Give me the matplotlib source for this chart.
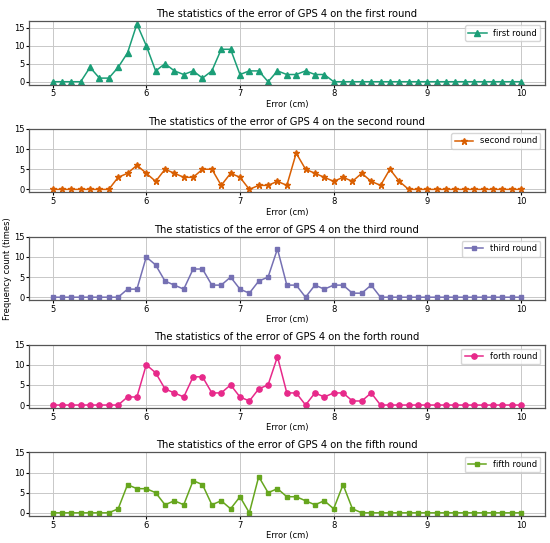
import numpy as np
import matplotlib
matplotlib.use("Agg")
import matplotlib.pyplot as plt

error_cm = np.round(np.arange(5.0, 10.01, 0.1), 1)

first_round = [0, 0, 0, 0, 4, 1, 1, 4, 8, 16, 10, 3, 5, 3, 2, 3, 1, 3, 9, 9,
               2, 3, 3, 0, 3, 2, 2, 3, 2, 2] + [0] * 21
second_round = [0, 0, 0, 0, 0, 0, 0, 3, 4, 6, 4, 2, 5, 4, 3, 3, 5, 5, 1, 4,
                3, 0, 1, 1, 2, 1, 9, 5, 4, 3, 2, 3, 2, 4, 2, 1, 5, 2] + [0] * 13
third_round = [0, 0, 0, 0, 0, 0, 0, 0, 2, 2, 10, 8, 4, 3, 2, 7, 7, 3, 3, 5,
               2, 1, 4, 5, 12, 3, 3, 0, 3, 2, 3, 3, 1, 1, 3] + [0] * 16
forth_round = [0, 0, 0, 0, 0, 0, 0, 0, 2, 2, 10, 8, 4, 3, 2, 7, 7, 3, 3, 5,
               2, 1, 4, 5, 12, 3, 3, 0, 3, 2, 3, 3, 1, 1, 3] + [0] * 16
fifth_round = [0, 0, 0, 0, 0, 0, 0, 1, 7, 6, 6, 5, 2, 3, 2, 8, 7, 2, 3, 1,
               4, 0, 9, 5, 6, 4, 4, 3, 2, 3, 1, 7, 1] + [0] * 18

rounds = ["first", "second", "third", "forth", "fifth"]
series = [first_round, second_round, third_round, forth_round, fifth_round]
colors = ["#1b9e77", "#d95f02", "#7570b3", "#e7298a", "#66a61e"]
markers = ["^", "*", "s", "o", "s"]
msizes = [3.8, 4.5, 3.3, 3.8, 3.3]

fig, axes = plt.subplots(5, 1, figsize=(5.5, 5.43), dpi=100)
plt.subplots_adjust(left=0.053, right=0.99, top=0.961, bottom=0.05, hspace=0.7)

for i in range(len(series)):
    ax = axes[i]
    ax.plot(error_cm, series[i], color=colors[i], marker=markers[i],
            markersize=msizes[i], linewidth=1.1, label=rounds[i] + " round")
    ax.set_title("The statistics of the error of GPS 4 on the " + rounds[i] + " round",
                 fontsize=7.2, pad=3)
    ax.set_xlabel("Error (cm)", fontsize=6, labelpad=1)
    ax.set_yticks([0, 5, 10, 15])
    if i > 0:
        ax.set_ylim(-0.75, 15)
    ax.tick_params(labelsize=6, length=2, pad=1.5)
    ax.grid(True, color="#c8c8c8", linewidth=0.7)
    ax.legend(loc="upper right", fontsize=6, handlelength=2.2)
    for s in ax.spines.values():
        s.set_color("#555555")
        s.set_linewidth(0.9)

axes[2].set_ylabel("Frequency count (times)", fontsize=6, labelpad=1)

plt.savefig("out.png", dpi=100)
